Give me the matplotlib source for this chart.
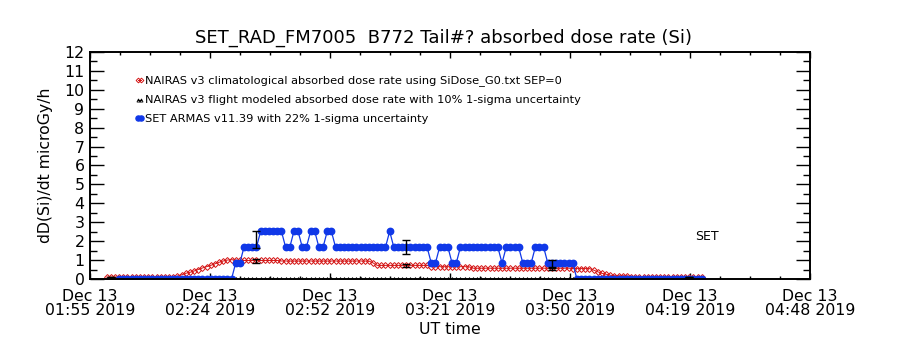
import numpy as np
import matplotlib
matplotlib.use('Agg')
import matplotlib.pyplot as plt
from matplotlib.ticker import MultipleLocator

plt.rcParams['font.family'] = ['DejaVu Sans']

# 时间轴: 以 01:55 UT 为零点的分钟数
tick_labels = ['Dec 13\n01:55 2019', 'Dec 13\n02:24 2019', 'Dec 13\n02:52 2019',
               'Dec 13\n03:21 2019', 'Dec 13\n03:50 2019', 'Dec 13\n04:19 2019',
               'Dec 13\n04:48 2019']
t_end = 173.0

# NAIRAS v3 气候模型 (红色), t = 4..147 min
nairas_t = np.arange(4, 148)
nairas_clim = [0.1] * 17 + \
    [0.15, 0.22, 0.3, 0.35, 0.42, 0.5, 0.58, 0.65, 0.72, 0.8, 0.88, 0.95, 1.0, 1.02, 1.0] + \
    [0.98] * 10 + [0.95] * 22 + [0.85] + [0.72] * 13 + [0.65] * 10 + [0.57] * 24 + \
    [0.55] * 5 + [0.47, 0.38, 0.3, 0.25, 0.2] + [0.17] * 4 + [0.12] * 18

# NAIRAS v3 航班模型 (黑色三角), 全部为 0
nairas_flight = [0.0] * len(nairas_t)

# SET ARMAS (蓝色), t = 7..147 min
set_t = np.arange(7, 148)
set_dose = [0.0] * 28 + [0.84] * 2 + [1.68] * 4 + [2.52] * 6 + [1.68] * 2 + [2.52] * 2 + \
    [1.68] * 2 + [2.52] * 2 + [1.68] * 2 + [2.52] * 2 + [1.68] * 13 + [2.52] + \
    [1.68] * 9 + [0.84] * 2 + [1.68] * 3 + [0.84] * 2 + [1.68] * 10 + [0.84] + \
    [1.68] * 4 + [0.84] * 3 + [1.68] * 3 + [0.84] * 7 + [0.0] * 31

# 误差棒位置
err_t = [5, 40, 76, 111, 144]
err_set = [0.0, 2.1, 1.69, 0.84, 0.0]
err_nairas = [0.1, 0.95, 0.7, 0.55, 0.1]

blue = '#1038e8'
red = '#d41414'

fig = plt.figure(figsize=(9, 3.5), dpi=100)
ax = fig.add_axes([0.1, 0.2029, 0.8, 0.6486])

l_fl, = ax.plot(nairas_t, nairas_flight, color='k', lw=0.8, marker='^', ms=2.8, mfc='none',
                mew=0.6, label='NAIRAS v3 flight modeled absorbed dose rate with 10% 1-sigma uncertainty')
l_clim, = ax.plot(nairas_t, nairas_clim, color=red, lw=0.7, marker='D', ms=3.0, mfc='none',
                  mew=0.7, label='NAIRAS v3 climatological absorbed dose rate using SiDose_G0.txt SEP=0')
l_set, = ax.plot(set_t, set_dose, color=blue, lw=0.9, marker='o', ms=4.6, mfc=blue, mec=blue,
                 label='SET ARMAS v11.39 with 22% 1-sigma uncertainty')

ax.errorbar(err_t, err_set, yerr=np.array(err_set) * 0.22, fmt='none', ecolor='k',
            elinewidth=1.0, capsize=3, capthick=1.0)
ax.errorbar(err_t, err_nairas, yerr=np.array(err_nairas) * 0.10, fmt='none', ecolor='k',
            elinewidth=1.0, capsize=3, capthick=1.0)

ax.text(145.4, 2.24, 'SET', fontsize=9, va='center', ha='left')

handles = [l_clim, l_fl, l_set]
ax.legend(handles=handles, labels=[h.get_label() for h in handles], loc='upper left',
          bbox_to_anchor=(0.062, 0.896), frameon=False, fontsize=8.2, numpoints=2,
          handlelength=0.9, handletextpad=0.05, labelspacing=0.79, borderpad=0,
          borderaxespad=0, markerscale=0.8)

ax.set_xlim(0, t_end)
ax.set_ylim(0, 12)
ax.set_xticks(np.linspace(0, t_end, 7))
ax.set_xticklabels(tick_labels, linespacing=0.9)
ax.xaxis.set_minor_locator(MultipleLocator(t_end / 24))
ax.yaxis.set_major_locator(MultipleLocator(1))
ax.yaxis.set_minor_locator(MultipleLocator(0.5))

ax.tick_params(axis='both', which='both', direction='in', top=True, right=True, color='k')
ax.tick_params(axis='x', which='major', length=4.5, width=1.0, labelsize=11.3, pad=7)
ax.tick_params(axis='x', which='minor', length=2.2, width=1.0)
ax.tick_params(axis='y', which='major', length=10, width=1.0, labelsize=11.3, pad=4)
ax.tick_params(axis='y', which='minor', length=5, width=1.0)
for s in ax.spines.values():
    s.set_linewidth(1.4)

ax.set_xlabel('UT time', fontsize=11.3, labelpad=3)
ax.set_ylabel('dD(Si)/dt microGy/h', fontsize=11.3, labelpad=8)
fig.text(0.493, 0.893, 'SET_RAD_FM7005  B772 Tail#? absorbed dose rate (Si)',
         fontsize=13, ha='center', va='center')

fig.savefig('out.png', dpi=100)
